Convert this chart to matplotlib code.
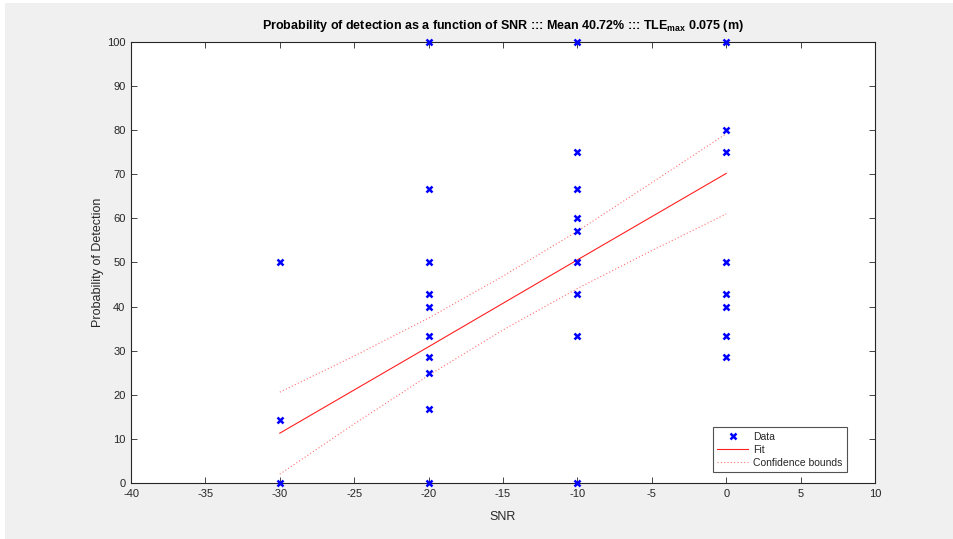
import matplotlib
matplotlib.use("Agg")
import matplotlib.pyplot as plt
from matplotlib.patches import Rectangle

plt.rcParams['font.family'] = ['Liberation Sans', 'DejaVu Sans']

# Data points (SNR, probability of detection %)
snr_data = [-30, -30, -30,
            -20, -20, -20, -20, -20, -20, -20, -20, -20, -20,
            -10, -10, -10, -10, -10, -10, -10, -10, -10,
            0, 0, 0, 0, 0, 0, 0, 0]
pd_data = [50, 14.29, 0,
           100, 66.67, 50, 42.86, 40, 33.33, 28.57, 25, 16.67, 0,
           100, 75, 66.67, 60, 57.14, 50, 42.86, 33.33, 0,
           100, 80, 75, 50, 42.86, 40, 33.33, 28.57]

# Fit and confidence bounds
snr_fit = [-30, -25, -20, -15, -10, -5, 0]
pd_fit = [11.3, 21.1, 30.9, 40.75, 50.6, 60.4, 70.2]
pd_upper = [20.6, 28.8, 37.4, 46.9, 57.1, 68.1, 79.2]
pd_lower = [2.0, 13.4, 24.4, 34.7, 44.1, 52.7, 61.0]

x_ticks = [-40, -35, -30, -25, -20, -15, -10, -5, 0, 5, 10]
y_ticks = [0, 10, 20, 30, 40, 50, 60, 70, 80, 90, 100]

W, H = 954, 539
fig = plt.figure(figsize=(W / 100, H / 100), dpi=100, facecolor='white')
fig.patches.append(Rectangle((5 / W, 0), 1 - 5 / W, 1 - 3 / H, transform=fig.transFigure,
                             facecolor='#f0f0f0', edgecolor='none', zorder=-10))

ax = fig.add_axes([131 / W, (H - 483) / H, 744 / W, 441 / H])
ax.set_facecolor('white')

axc = '#262626'
ax.plot(snr_data, pd_data, linestyle='none', marker='x', color='#0000ff',
        markersize=5, markeredgewidth=1.8, label='Data', zorder=5, clip_on=False)
ax.plot(snr_fit, pd_fit, color='#ff2020', linewidth=0.8, label='Fit', zorder=3)
ax.plot(snr_fit, pd_upper, color='#ff7070', linewidth=0.8, linestyle=(0, (1, 2)),
        label='Confidence bounds', zorder=3)
ax.plot(snr_fit, pd_lower, color='#ff7070', linewidth=0.8, linestyle=(0, (1, 2)), zorder=3)

ax.set_xlim(-40, 10)
ax.set_ylim(0, 100)
ax.set_xticks(x_ticks)
ax.set_yticks(y_ticks)
ax.set_xticklabels([str(v) for v in x_ticks])
ax.set_yticklabels([str(v) for v in y_ticks])

for s in ax.spines.values():
    s.set_color(axc)
    s.set_linewidth(0.8)
ax.tick_params(direction='in', length=4, width=0.6, color=axc, labelcolor=axc,
               labelsize=8, top=True, right=True, pad=4)

ax.set_xlabel('SNR', fontsize=9, color=axc, labelpad=9)
ax.set_ylabel('Probability of Detection', fontsize=9, color=axc, labelpad=2)
ax.set_title('Probability of detection as a function of SNR ::: Mean 40.72% ::: TLE$_{\\mathregular{max}}$ 0.075 (m)',
             fontsize=9, fontweight='bold', color='black', pad=9)

leg = ax.legend(loc='lower right', bbox_to_anchor=(0.9624, 0.025), fontsize=7.5,
                frameon=True, fancybox=False, borderpad=0.4, labelspacing=0.3,
                handlelength=3.0, handletextpad=0.5, borderaxespad=0, markerscale=0.9)
leg.get_frame().set_edgecolor(axc)
leg.get_frame().set_linewidth(0.8)
for t in leg.get_texts():
    t.set_color(axc)

fig.savefig('out.png', dpi=100, facecolor=fig.get_facecolor())
